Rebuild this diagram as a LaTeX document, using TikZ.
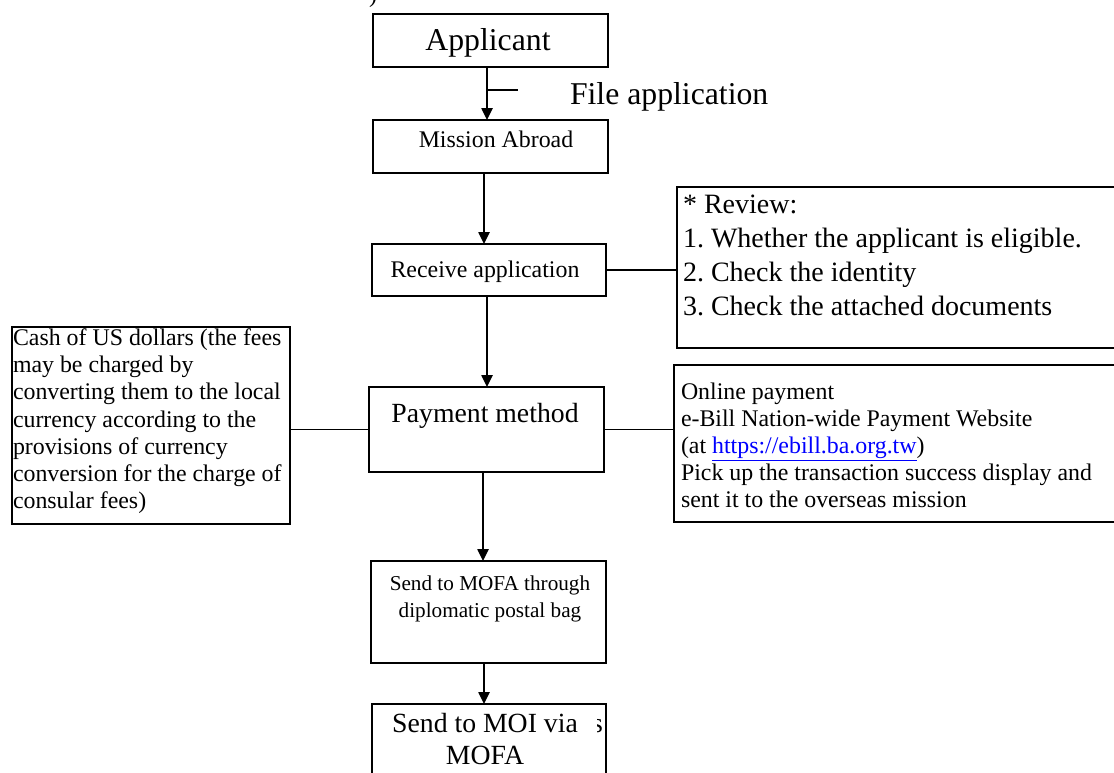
\documentclass[tikz,border=0pt]{standalone}
\usepackage{fontspec}
\setmainfont{Liberation Serif}
\usetikzlibrary{arrows.meta}
\frenchspacing
\begin{document}
\begin{tikzpicture}[x=0.75pt,y=-0.75pt,
  box/.style={draw, line width=1.1pt, inner sep=0pt, outer sep=0pt, anchor=north west},
  arr/.style={-{Triangle[length=9pt,width=8.5pt]}, line width=1.1pt},
  conn/.style={line width=1.1pt},
  txt/.style={inner sep=0pt, outer sep=0pt},
  big/.style={txt, font=\fontsize{23.8}{28}\selectfont},
  mid/.style={txt, font=\fontsize{20.8}{25}\selectfont},
  rvw/.style={txt, font=\fontsize{21}{25}\selectfont},
  norm/.style={txt, font=\fontsize{17.9}{21}\selectfont},
  small/.style={txt, font=\fontsize{15.9}{19}\selectfont},
]
\useasboundingbox (0,0) rectangle (1114,772);
\clip (0,0) rectangle (1114,772);
\fill[white] (0,0) rectangle (1114,772);

% boxes
\node[box, minimum width=176.25pt, minimum height=39.75pt] (app) at (373,14) {};
\node[box, minimum width=176.25pt, minimum height=39.75pt] (mis) at (373,120) {};
\node[box, minimum width=175.5pt, minimum height=39pt] (rec) at (372,244) {};
\node[box, minimum width=337.5pt, minimum height=120.75pt] (rev) at (677,187) {};
\node[box, minimum width=176.25pt, minimum height=63.75pt] (pay) at (369,387) {};
\node[box, minimum width=208.5pt, minimum height=147.75pt] (cash) at (12,327) {};
\node[box, minimum width=337.5pt, minimum height=117.75pt] (onl) at (674,365) {};
\node[box, minimum width=176.25pt, minimum height=76.5pt] (mofa) at (371,561) {};
\node[box, minimum width=175.5pt, minimum height=75pt] (moi) at (372,704) {};

% arrow axes
\coordinate (ax1) at (487,0);
\coordinate (ax2) at (484,0);
\coordinate (ax3) at (487,0);
\coordinate (ax4) at (483,0);
\coordinate (ax5) at (484,0);
\coordinate (tkA) at (487,90);
\coordinate (tkB) at (518,90);

% connectors
\draw[arr] (app.south -| ax1) -- (mis.north -| ax1);
\draw[conn] (tkA) -- (tkB);
\draw[arr] (mis.south -| ax2) -- (rec.north -| ax2);
\draw[conn] (rec.east) -- (rec.east -| rev.west);
\draw[arr] (rec.south -| ax3) -- (pay.north -| ax3);
\draw[conn] (pay.west) -- (pay.west -| cash.east);
\draw[conn] (pay.east) -- (pay.east -| onl.west);
\draw[arr] (pay.south -| ax4) -- (mofa.north -| ax4);
\draw[arr] (mofa.south -| ax5) -- (moi.north -| ax5);

% texts
\node[big, anchor=base] (tapp) at (488,50) {Applicant};
\node[big, anchor=base west] (tfile) at (570,104) {File application};
\node[norm, anchor=base] (tmis) at (496,147) {Mission Abroad};
\node[norm, anchor=base] (trec) at (485,277) {Receive application};

\node[rvw, anchor=base west] (r1) at (683,213) {* Review:};
\node[rvw, anchor=base west] (r2) at (683,247) {1. Whether the applicant is eligible.};
\node[rvw, anchor=base west] (r3) at (683,281) {2. Check the identity};
\node[rvw, anchor=base west] (r4) at (683,315) {3. Check the attached documents};

\node[mid, anchor=base] (tpay) at (485,422) {Payment method};

\node[norm, anchor=base west] (c1) at (13,345) {Cash of US dollars (the fees};
\node[norm, anchor=base west] (c2) at (13,372) {may be charged by};
\node[norm, anchor=base west] (c3) at (13,399) {converting them to the local};
\node[norm, anchor=base west] (c4) at (13,427) {currency according to the};
\node[norm, anchor=base west] (c5) at (13,454) {provisions of currency};
\node[norm, anchor=base west] (c6) at (13,481) {conversion for the charge of};
\node[norm, anchor=base west] (c7) at (13,508) {consular fees)};

\node[norm, anchor=base west] (o1) at (681,399) {Online payment};
\node[norm, anchor=base west] (o2) at (681,426) {e-Bill Nation-wide Payment Website};
\node[norm, anchor=base west] (o3) at (681,453) {(at \textcolor[RGB]{0,0,255}{\underline{https://ebill.ba.org.tw}})};
\node[norm, anchor=base west] (o4) at (681,480) {Pick up the transaction success display and};
\node[norm, anchor=base west] (o5) at (681,507) {sent it to the overseas mission};

\node[small, anchor=base] (m1) at (490,590) {Send to MOFA through};
\node[small, anchor=base] (m2) at (490,617) {diplomatic postal bag};

\node[mid, anchor=base] (i1) at (485,732) {Send to MOI via};
\node[mid, anchor=base] (i2) at (485,764) {MOFA};

% clipped glyph fragments
\node[norm, anchor=base west] (frag1) at (369,2) {)};
\begin{scope}
\clip (597,716) rectangle (603,734);
\node[mid, anchor=base west] (frag2) at (592,732) {s};
\end{scope}
\end{tikzpicture}
\end{document}
